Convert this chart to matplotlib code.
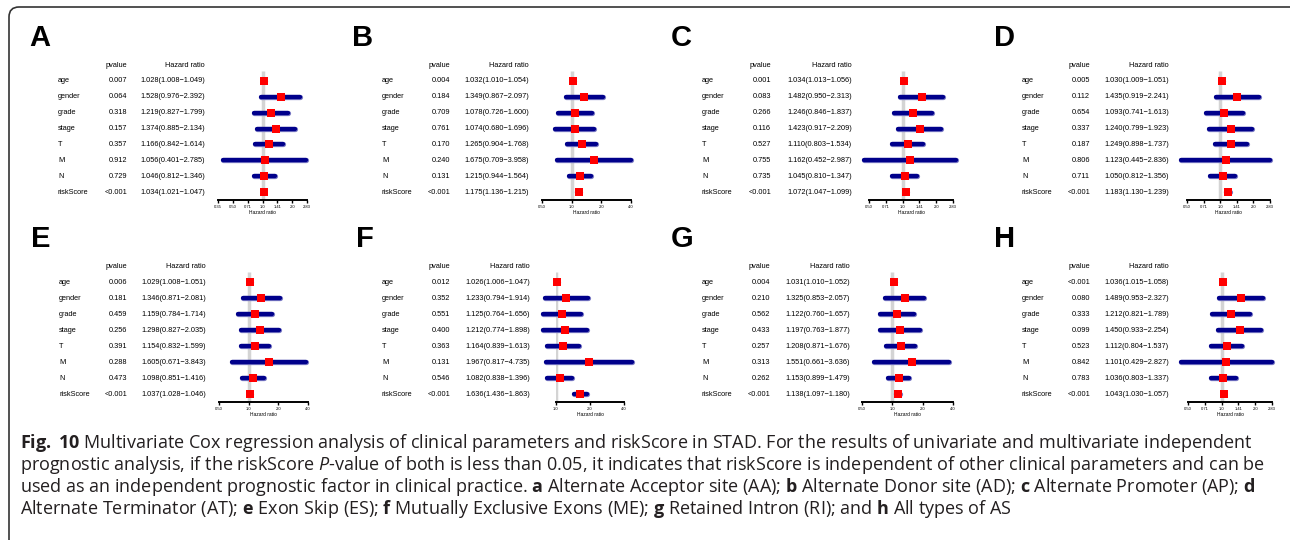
import matplotlib
matplotlib.use('Agg')
import matplotlib.pyplot as plt
from matplotlib.patches import FancyBboxPatch
from matplotlib.transforms import blended_transform_factory, IdentityTransform

W, H = 1290, 540

factors = ['age', 'gender', 'grade', 'stage', 'T', 'M', 'N', 'riskScore']

# panel A - Alternate Acceptor site
p_A = ['0.007', '0.064', '0.318', '0.157', '0.357', '0.912', '0.729', '<0.001']
hr_A = [1.028, 1.528, 1.219, 1.374, 1.166, 1.056, 1.046, 1.034]
lo_A = [1.008, 0.976, 0.827, 0.885, 0.842, 0.401, 0.812, 1.021]
hi_A = [1.049, 2.392, 1.799, 2.134, 1.614, 2.785, 1.346, 1.047]

# panel B - Alternate Donor site
p_B = ['0.004', '0.184', '0.709', '0.761', '0.170', '0.240', '0.131', '<0.001']
hr_B = [1.032, 1.349, 1.078, 1.074, 1.265, 1.675, 1.215, 1.175]
lo_B = [1.010, 0.867, 0.726, 0.680, 0.904, 0.709, 0.944, 1.136]
hi_B = [1.054, 2.097, 1.600, 1.696, 1.768, 3.958, 1.564, 1.215]

# panel C - Alternate Promoter
p_C = ['0.001', '0.083', '0.266', '0.116', '0.527', '0.755', '0.735', '<0.001']
hr_C = [1.034, 1.482, 1.246, 1.423, 1.110, 1.162, 1.045, 1.072]
lo_C = [1.013, 0.950, 0.846, 0.917, 0.803, 0.452, 0.810, 1.047]
hi_C = [1.056, 2.313, 1.837, 2.209, 1.534, 2.987, 1.347, 1.099]

# panel D - Alternate Terminator
p_D = ['0.005', '0.112', '0.654', '0.337', '0.187', '0.806', '0.711', '<0.001']
hr_D = [1.030, 1.435, 1.093, 1.240, 1.249, 1.123, 1.050, 1.183]
lo_D = [1.009, 0.919, 0.741, 0.799, 0.898, 0.445, 0.812, 1.130]
hi_D = [1.051, 2.241, 1.613, 1.923, 1.737, 2.836, 1.356, 1.239]

# panel E - Exon Skip
p_E = ['0.006', '0.181', '0.459', '0.256', '0.391', '0.288', '0.473', '<0.001']
hr_E = [1.029, 1.346, 1.159, 1.298, 1.154, 1.605, 1.098, 1.037]
lo_E = [1.008, 0.871, 0.784, 0.827, 0.832, 0.671, 0.851, 1.028]
hi_E = [1.051, 2.081, 1.714, 2.035, 1.599, 3.843, 1.416, 1.046]

# panel F - Mutually Exclusive Exons
p_F = ['0.012', '0.352', '0.551', '0.400', '0.363', '0.131', '0.546', '<0.001']
hr_F = [1.026, 1.233, 1.125, 1.212, 1.164, 1.967, 1.082, 1.636]
lo_F = [1.006, 0.794, 0.764, 0.774, 0.839, 0.817, 0.838, 1.436]
hi_F = [1.047, 1.914, 1.656, 1.898, 1.613, 4.735, 1.396, 1.863]

# panel G - Retained Intron
p_G = ['0.004', '0.210', '0.562', '0.433', '0.257', '0.313', '0.262', '<0.001']
hr_G = [1.031, 1.325, 1.122, 1.197, 1.208, 1.551, 1.153, 1.138]
lo_G = [1.010, 0.853, 0.760, 0.763, 0.871, 0.661, 0.899, 1.097]
hi_G = [1.052, 2.057, 1.657, 1.877, 1.676, 3.636, 1.479, 1.180]

# panel H - All types of AS
p_H = ['<0.001', '0.080', '0.333', '0.099', '0.523', '0.842', '0.783', '<0.001']
hr_H = [1.036, 1.489, 1.212, 1.450, 1.112, 1.101, 1.036, 1.043]
lo_H = [1.015, 0.953, 0.821, 0.933, 0.804, 0.429, 0.803, 1.030]
hi_H = [1.058, 2.327, 1.789, 2.254, 1.537, 2.827, 1.337, 1.057]

ticks_wide = [2 ** -1.5, 2 ** -1, 2 ** -0.5, 1, 2 ** 0.5, 2, 2 ** 1.5]
labels_wide = ['0.35', '0.50', '0.71', '1.0', '1.41', '2.0', '2.83']
ticks_half = [2 ** -1, 2 ** -0.5, 1, 2 ** 0.5, 2, 2 ** 1.5]
labels_half = ['0.50', '0.71', '1.0', '1.41', '2.0', '2.83']
ticks_four = [0.5, 1, 2, 4]
labels_four = ['0.50', '1.0', '2.0', '4.0']
ticks_one = [1, 2, 4]
labels_one = ['1.0', '2.0', '4.0']

fig = plt.figure(figsize=(12.9, 5.4), dpi=100)
plt.rcParams['font.family'] = ['Liberation Sans', 'DejaVu Sans']


def fx(x):
    return x / W


def fy(y):
    return 1 - y / H


def panel(letter, lx, ly, label_x, pv_right, hr_right, ax_l, ax_r, row0, step,
          ticks, tlabels, pv, hr, lo, hi):
    fig.text(fx(lx), fy(ly), letter, fontsize=21, fontweight='bold', va='center', ha='left')

    top = row0 - 1.25 * step
    bottom = row0 + 7.5 * step
    ax = fig.add_axes([fx(ax_l), fy(bottom), (ax_r - ax_l) / W, (bottom - top) / H])
    ax.set_xscale('log', base=2)
    ax.set_xlim(ticks[0], ticks[-1])
    ax.set_ylim(7.5, -1.25)
    ax.patch.set_alpha(0)
    for s in ['top', 'left', 'right']:
        ax.spines[s].set_visible(False)
    ax.spines['bottom'].set_linewidth(1.4)
    ax.set_yticks([])
    ax.set_xticks(ticks)
    ax.set_xticklabels(tlabels)
    ax.minorticks_off()
    ax.tick_params(axis='x', length=2.5, width=1, labelsize=3, pad=1)
    ax.set_xlabel('Hazard ratio', fontsize=3.5, labelpad=1)

    ax.vlines(1, -0.65, 7.5, color='#d4d4d4', lw=2.5, zorder=1)
    for i in range(len(hr)):
        ax.plot([lo[i], hi[i]], [i, i], color='#7a7ac4', lw=3.8, solid_capstyle='round',
                clip_on=False, zorder=2)
        ax.plot([lo[i], hi[i]], [i, i], color='#00008b', lw=3.1, solid_capstyle='round',
                clip_on=False, zorder=2)
        ax.plot(hr[i], i, 's', color='#ff0000', ms=5.6, mew=0, clip_on=False, zorder=3)

    tr = blended_transform_factory(fig.transFigure, ax.transData)
    ax.text(fx(pv_right), -1.0, 'pvalue', transform=tr, fontsize=5.3, ha='right', va='center')
    ax.text(fx(hr_right), -1.0, 'Hazard ratio', transform=tr, fontsize=5.3, ha='right', va='center')
    for i, name in enumerate(factors):
        ax.text(fx(label_x), i, name, transform=tr, fontsize=5.3, ha='left', va='center')
        ax.text(fx(pv_right), i, pv[i], transform=tr, fontsize=5.3, ha='right', va='center')
        s = '{:.3f}({:.3f}\u2212{:.3f})'.format(hr[i], lo[i], hi[i])
        ax.text(fx(hr_right), i, s, transform=tr, fontsize=5.3, ha='right', va='center')


r1, st1 = 81, 15.86
r2, st2 = 282, 16.0
panel('A', 29, 38, 58, 127, 205, 218, 307, r1, st1, ticks_wide, labels_wide, p_A, hr_A, lo_A, hi_A)
panel('B', 352, 38, 382, 450, 529, 542, 631, r1, st1, ticks_four, labels_four, p_B, hr_B, lo_B, hi_B)
panel('C', 671, 38, 702, 771, 852, 869, 953, r1, st1, ticks_half, labels_half, p_C, hr_C, lo_C, hi_C)
panel('D', 994, 38, 1022, 1090, 1169, 1187, 1270, r1, st1, ticks_half, labels_half, p_D, hr_D, lo_D, hi_D)
panel('E', 31, 239, 59, 127, 206, 219, 308, r2, st2, ticks_four, labels_four, p_E, hr_E, lo_E, hi_E)
panel('F', 356, 239, 382, 450, 530, 556, 624, r2, st2, ticks_one, labels_one, p_F, hr_F, lo_F, hi_F)
panel('G', 671, 239, 702, 770, 850, 862, 953, r2, st2, ticks_four, labels_four, p_G, hr_G, lo_G, hi_G)
panel('H', 994, 239, 1022, 1090, 1169, 1188, 1272, r2, st2, ticks_half, labels_half, p_H, hr_H, lo_H, hi_H)

# caption
plt.rcParams['mathtext.fontset'] = 'custom'
plt.rcParams['mathtext.rm'] = 'Open Sans'
plt.rcParams['mathtext.bf'] = 'Open Sans:bold'
plt.rcParams['mathtext.it'] = 'Open Sans:italic'
caption = [
    r'$\mathbf{Fig.}$ $\mathbf{10}$ Multivariate Cox regression analysis of clinical parameters and riskScore in STAD. For the results of univariate and multivariate independent',
    r'prognostic analysis, if the riskScore $\mathit{P}$-value of both is less than 0.05, it indicates that riskScore is independent of other clinical parameters and can be',
    r'used as an independent prognostic factor in clinical practice. $\mathbf{a}$ Alternate Acceptor site (AA); $\mathbf{b}$ Alternate Donor site (AD); $\mathbf{c}$ Alternate Promoter (AP); $\mathbf{d}$',
    r'Alternate Terminator (AT); $\mathbf{e}$ Exon Skip (ES); $\mathbf{f}$ Mutually Exclusive Exons (ME); $\mathbf{g}$ Retained Intron (RI); and $\mathbf{h}$ All types of AS',
]
for k, line in enumerate(caption):
    fig.text(fx(20), fy(448 + 22 * k), line, fontsize=13.0, family='Open Sans', color='#231f20',
             ha='left', va='baseline')

frame = FancyBboxPatch((9, -30), 1310, 563, boxstyle='round,pad=0,rounding_size=10',
                       transform=IdentityTransform(), facecolor='none', edgecolor='#333333', lw=1.2)
fig.add_artist(frame)

plt.savefig('out.png', dpi=100)
